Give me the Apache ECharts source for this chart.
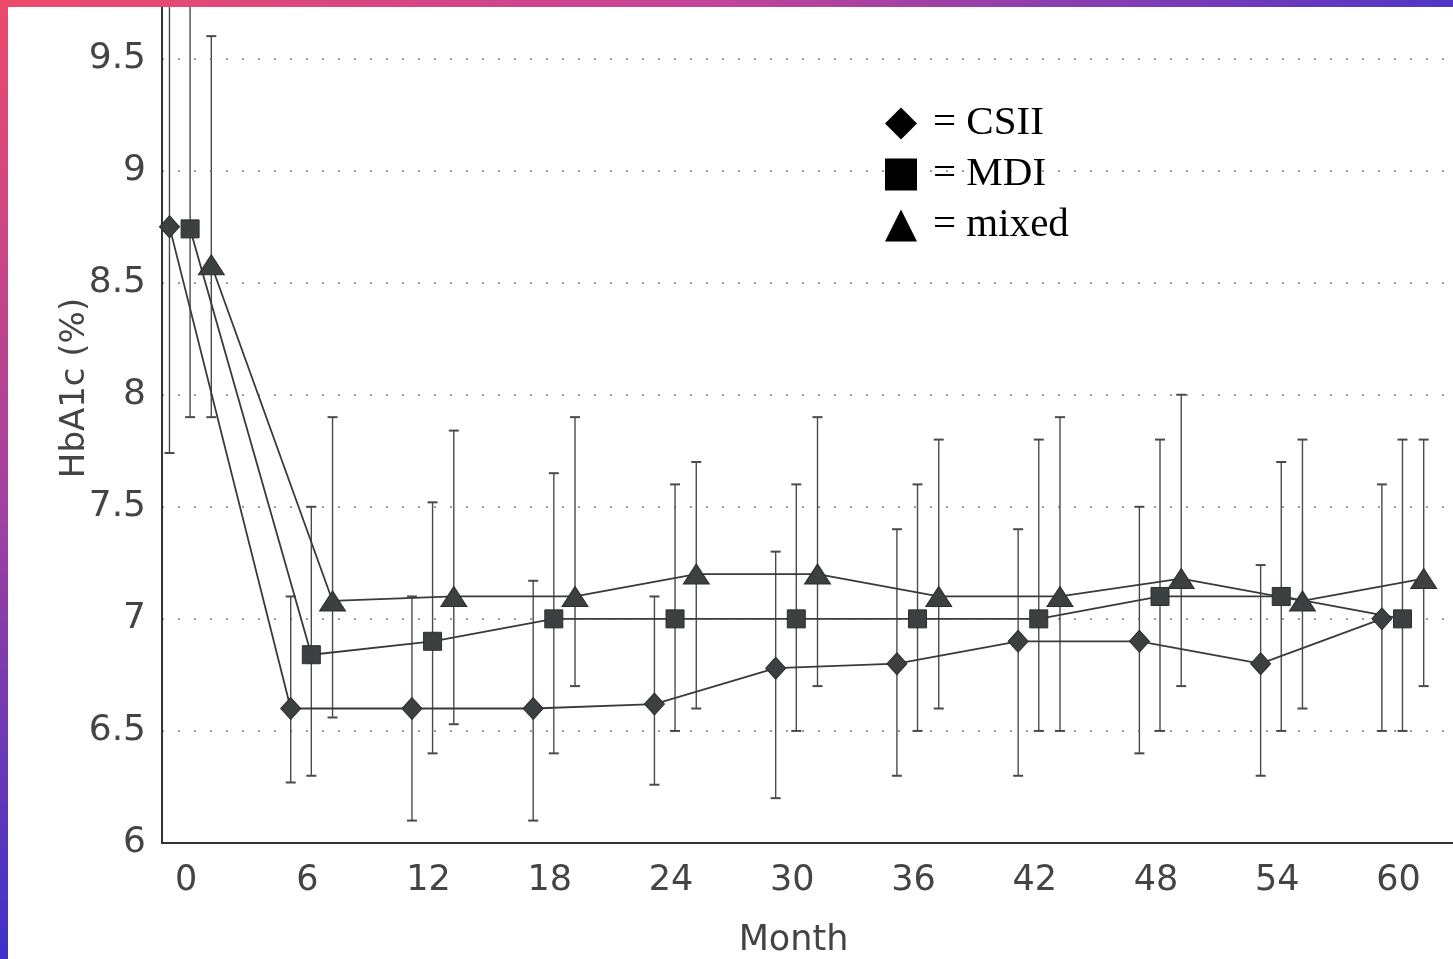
<!DOCTYPE html>
<html>
<head>
<meta charset="utf-8">
<script src="https://cdn.jsdelivr.net/npm/echarts@6/dist/echarts.min.js"></script>
<style>
  html, body { margin: 0; padding: 0; width: 1453px; height: 959px; overflow: hidden; background: #ffffff; }
  body { position: relative; }
  #topbar { position: absolute; left: 0; top: 0; width: 1453px; height: 7px; background: linear-gradient(90deg, #ee4a6a 0%, #c0449a 50%, #4f36c6 100%); z-index: 2; }
  #leftbar { position: absolute; left: 0; top: 0; width: 8px; height: 959px; background: linear-gradient(180deg, #ee4a6a 0%, #a8419e 50%, #3d31c9 100%); z-index: 3; }
  #chart { position: absolute; left: 8px; top: 7px; width: 1445px; height: 952px; background: #ffffff; }
</style>
</head>
<body>
<div id="topbar"></div>
<div id="leftbar"></div>
<div id="chart"></div>
<script>
// ---- data ----
const months = [0, 6, 12, 18, 24, 30, 36, 42, 48, 54, 60];
const xTickLabels = [0, 6, 12, 18, 24, 30, 36, 42, 48, 54, 60];
const yTickLabels = [6, 6.5, 7, 7.5, 8, 8.5, 9, 9.5];

const csiiMean = [8.75, 6.60, 6.60, 6.60, 6.62, 6.78, 6.80, 6.90, 6.90, 6.80, 7.00];
const csiiLow  = [7.74, 6.27, 6.10, 6.10, 6.26, 6.20, 6.30, 6.30, 6.40, 6.30, 6.50];
const csiiHigh = [9.90, 7.10, 7.10, 7.17, 7.10, 7.30, 7.40, 7.40, 7.50, 7.24, 7.60];

const mdiMean  = [8.74, 6.84, 6.90, 7.00, 7.00, 7.00, 7.00, 7.00, 7.10, 7.10, 7.00];
const mdiLow   = [7.90, 6.30, 6.40, 6.40, 6.50, 6.50, 6.50, 6.50, 6.50, 6.50, 6.50];
const mdiHigh  = [9.90, 7.50, 7.52, 7.65, 7.60, 7.60, 7.60, 7.80, 7.80, 7.70, 7.80];

const mixedMean = [8.58, 7.08, 7.10, 7.10, 7.20, 7.20, 7.10, 7.10, 7.18, 7.08, 7.18];
const mixedLow  = [7.90, 6.56, 6.53, 6.70, 6.60, 6.70, 6.60, 6.50, 6.70, 6.60, 6.70];
const mixedHigh = [9.60, 7.90, 7.84, 7.90, 7.70, 7.90, 7.80, 7.90, 8.00, 7.80, 7.80];

// ---- layout / style ----
const X_MIN = -1.19, X_MAX = 62.7;
const Y_MIN = 6, Y_MAX = 9.73;
const groupOffset = { CSII: -0.82, MDI: 0.2, mixed: 1.25 };  // horizontal dodge (months)
const markerColor = '#3b4140';
const lineColor = '#3a3a3a';
const errColor = '#4a4a4a';

function lineData(mean, name) {
  return months.map((m, i) => [m + groupOffset[name], mean[i]]);
}
function errData(low, high, name) {
  return months.map((m, i) => [m + groupOffset[name], low[i], high[i]]);
}
function renderErr(params, api) {
  const x = api.value(0), lo = api.value(1), hi = api.value(2);
  const hiC = Math.min(hi, Y_MAX);
  const pLo = api.coord([x, lo]);
  const pHi = api.coord([x, hiC]);
  const half = 5;
  const st = { stroke: errColor, lineWidth: 1.4 };
  const children = [
    { type: 'line', shape: { x1: pLo[0], y1: pLo[1], x2: pHi[0], y2: pHi[1] }, style: st },
    { type: 'line', shape: { x1: pLo[0] - half, y1: pLo[1], x2: pLo[0] + half, y2: pLo[1] }, style: { stroke: errColor, lineWidth: 2 } }
  ];
  if (hi <= Y_MAX) {
    children.push({ type: 'line', shape: { x1: pHi[0] - half, y1: pHi[1], x2: pHi[0] + half, y2: pHi[1] }, style: { stroke: errColor, lineWidth: 2 } });
  }
  return { type: 'group', children };
}
function lineSeries(name, mean, symbol, size) {
  return {
    name, type: 'line', data: lineData(mean, name), symbol, symbolSize: size,
    clip: false, z: 3,
    lineStyle: { color: lineColor, width: 1.8 },
    itemStyle: { color: markerColor, borderColor: '#2a2e2d', borderWidth: 1 },
    emphasis: { disabled: true }, animation: false
  };
}
function errSeries(name, low, high) {
  return {
    name: name + '-err', type: 'custom', data: errData(low, high, name),
    renderItem: renderErr, z: 2, animation: false, silent: true
  };
}

const chart = echarts.init(document.getElementById('chart'), null, { renderer: 'canvas' });
const axisFont = 'DejaVu Sans';
chart.setOption({
  animation: false,
  backgroundColor: '#ffffff',
  grid: { left: 154, right: 0, top: 0, bottom: 116, containLabel: false, outerBoundsMode: 'none' },
  legend: {
    orient: 'vertical', left: 872, top: 91,
    itemWidth: 32, itemHeight: 32, itemGap: 10,
    data: [
      { name: 'CSII', icon: 'diamond' },
      { name: 'MDI', icon: 'rect' },
      { name: 'mixed', icon: 'triangle' }
    ],
    itemStyle: { color: '#000000', borderWidth: 0 },
    formatter: n => '= ' + n,
    textStyle: { fontFamily: 'Liberation Serif', fontSize: 41, color: '#000', lineHeight: 34, padding: [0, 0, 0, 11] },
    selectedMode: false
  },
  xAxis: {
    type: 'value', min: X_MIN, max: X_MAX,
    name: 'Month', nameLocation: 'middle', nameGap: 80, nameMoveOverlap: false,
    nameTextStyle: { fontFamily: axisFont, fontSize: 35, color: '#444', padding: [0, 28, 0, 0] },
    axisLine: { show: true, onZero: false, lineStyle: { color: '#333', width: 2 } },
    axisTick: { show: false },
    splitLine: { show: false },
    axisLabel: { customValues: xTickLabels, fontFamily: axisFont, fontSize: 35, color: '#444', margin: 20 }
  },
  yAxis: {
    type: 'value', min: Y_MIN, max: Y_MAX, interval: 0.5,
    name: 'HbA1c (%)', nameLocation: 'middle', nameGap: 70, nameRotate: 90, nameMoveOverlap: false,
    nameTextStyle: { fontFamily: axisFont, fontSize: 34, color: '#444', padding: [0, 0, 0, 74] },
    axisLine: { show: true, onZero: false, lineStyle: { color: '#333', width: 2 } },
    axisTick: { show: false },
    splitLine: { show: true, showMinLine: false, showMaxLine: false, lineStyle: { color: '#9a9a9a', width: 2, type: [2, 14] } },
    axisLabel: {
      fontFamily: axisFont, fontSize: 36, color: '#444', margin: 16, showMaxLabel: false,
      formatter: v => (yTickLabels.indexOf(Math.round(v * 100) / 100) >= 0 ? String(v) : '')
    }
  },
  series: [
    errSeries('CSII', csiiLow, csiiHigh),
    errSeries('MDI', mdiLow, mdiHigh),
    errSeries('mixed', mixedLow, mixedHigh),
    lineSeries('CSII', csiiMean, 'diamond', [20, 22]),
    lineSeries('MDI', mdiMean, 'rect', [18, 18]),
    lineSeries('mixed', mixedMean, 'triangle', [26, 20])
  ]
});
</script>
</body>
</html>
